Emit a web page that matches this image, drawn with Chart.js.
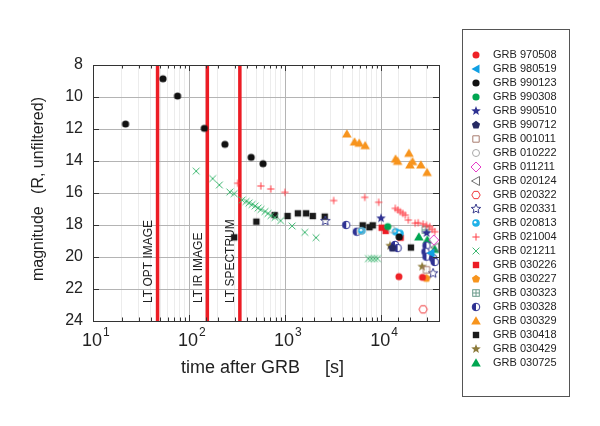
<!DOCTYPE html>
<html>
<head>
<meta charset="utf-8">
<script src="https://cdn.jsdelivr.net/npm/chart.js@4.4.0/dist/chart.umd.min.js"></script>
<style>
  html, body { margin: 0; padding: 0; background: #fff; }
</style>
</head>
<body>
<canvas id="grb-chart" width="600" height="426"></canvas>
<script>
(function () {
	"use strict";

	// time after burst [s] / R magnitude
	var t970508 = [15300, 26900];
	var m970508 = [21.23, 21.27];
	var t980519 = [33000];
	var m980519 = [19.75];
	var t990123 = [21.8, 53.5, 75.9, 144, 236, 443, 589, 15400];
	var m990123 = [11.69, 8.86, 9.94, 11.96, 12.96, 13.77, 14.17, 18.75];
	var t990308 = [11700];
	var m990308 = [18.1];
	var t990510 = [9970, 29700];
	var m990510 = [17.58, 18.5];
	var t990712 = [13060];
	var m990712 = [19.44];
	var t001011 = [29600];
	var m001011 = [20.8];
	var t010222 = [6100, 12860];
	var m010222 = [18.37, 18.27];
	var t011211 = [35300];
	var m011211 = [18.94];
	var t020124 = [36500];
	var m020124 = [19.4];
	var t020322 = [27350];
	var m020322 = [23.27];
	var t020331 = [2623, 34700];
	var m020331 = [17.75, 21.02];
	var t020813 = [6280, 14130, 15700];
	var m020813 = [18.36, 18.42, 18.52];
	var t021004 = [321, 559, 709, 995, 3200, 6745, 9420, 14030, 14900, 15800, 16790, 17830,
		19150, 22600, 24300, 27350, 29600, 32060, 33880, 36100];
	var m021004 = [15.39, 15.56, 15.75, 15.96, 16.47, 16.27, 16.58, 16.96, 17.06, 17.17, 17.27, 17.38,
		17.69, 17.89, 17.86, 17.94, 18.02, 18.1, 18.27, 18.42];
	var t021211 = [118.6, 176, 206.7, 266, 295, 357, 393, 422, 453, 487, 523, 561, 618, 663, 713,
		784, 898, 1183, 1603, 2099, 7360, 7920, 8510, 9150];
	var m021211 = [14.63, 15.1, 15.5, 15.94, 16.04, 16.44, 16.53, 16.62, 16.72, 16.81, 16.94, 17.03,
		17.16, 17.28, 17.41, 17.53, 17.73, 18.06, 18.46, 18.79, 20.1, 20.1, 20.1, 20.1];
	var t030226 = [10120, 11130, 15920];
	var m030226 = [18.17, 18.37, 18.79];
	var t030227 = [29600];
	var m030227 = [21.33];
	var t030323 = [28900];
	var m030323 = [18.31];
	var t030328 = [4325, 5570, 13930, 14830, 29600, 28900, 29600, 34700, 36100];
	var m030328 = [18.0, 18.42, 19.25, 19.44, 19.29, 19.67, 19.98, 20.08, 20.31];
	var t030329 = [4395, 5280, 5906, 6810, 14120, 14820, 19450, 19900, 21200, 25870, 30080];
	var m030329 = [12.31, 12.81, 12.89, 13.04, 13.88, 14.02, 13.52, 14.25, 14.04, 14.25, 14.72];
	var t030418 = [295, 502, 778, 1061, 1357, 1653, 1941, 2583, 6430, 7550, 8170, 20400];
	var m030418 = [18.77, 17.79, 17.38, 17.44, 17.27, 17.27, 17.44, 17.48, 18.02, 18.14, 18.02, 19.41];
	var t030429 = [12390, 26700];
	var m030429 = [19.29, 20.6];
	var t030725 = [24660, 30270, 36100];
	var m030725 = [18.75, 18.94, 19.52];

	// Liverpool Telescope response times [s]
	var ltTimes = [47, 155, 338];
	var ltLabels = ["LT OPT IMAGE", "LT IR IMAGE", "LT SPECTRUM"];

	var xDecades = [10, 100, 1000, 10000];

	var FONT = '"Liberation Sans", Arial, Helvetica, sans-serif';

	// ---- marker images ----
	function mk(draw) {
		var c = document.createElement("canvas");
		c.width = 14;
		c.height = 14;
		var g = c.getContext("2d");
		g.translate(7, 7);
		draw(g);
		return c;
	}
	function path(g, pts) {
		g.beginPath();
		pts.forEach(function (p, i) {
			if (i) g.lineTo(p[0], p[1]);
			else g.moveTo(p[0], p[1]);
		});
		g.closePath();
	}
	function ngon(n, r, rot) {
		var pts = [];
		for (var i = 0; i < n; i++) {
			var a = rot + (i * 2 * Math.PI) / n;
			pts.push([r * Math.cos(a), r * Math.sin(a)]);
		}
		return pts;
	}
	function starPts(r, r2) {
		var pts = [];
		for (var i = 0; i < 10; i++) {
			var a = -Math.PI / 2 + (i * Math.PI) / 5;
			var rr = i % 2 ? r2 : r;
			pts.push([rr * Math.cos(a), rr * Math.sin(a)]);
		}
		return pts;
	}
	function dot(color, r) {
		return mk(function (g) {
			g.beginPath();
			g.arc(0, 0, r, 0, 2 * Math.PI);
			g.fillStyle = color;
			g.fill();
		});
	}
	function ring(color, r) {
		return mk(function (g) {
			g.beginPath();
			g.arc(0, 0, r, 0, 2 * Math.PI);
			g.strokeStyle = color;
			g.lineWidth = 1;
			g.stroke();
		});
	}
	function glossDot(color, r) {
		return mk(function (g) {
			g.beginPath();
			g.arc(0, 0, r, 0, 2 * Math.PI);
			g.fillStyle = color;
			g.fill();
			g.beginPath();
			g.arc(-0.8, -0.8, 1.3, 0, 2 * Math.PI);
			g.fillStyle = "#ffffff";
			g.fill();
		});
	}
	function halfDot(color, r) {
		return mk(function (g) {
			g.beginPath();
			g.arc(0, 0, r, 0, 2 * Math.PI);
			g.fillStyle = "#ffffff";
			g.fill();
			g.beginPath();
			g.arc(0, 0, r, Math.PI / 2, 1.5 * Math.PI);
			g.closePath();
			g.fillStyle = color;
			g.fill();
			g.beginPath();
			g.arc(0, 0, r, 0, 2 * Math.PI);
			g.strokeStyle = color;
			g.lineWidth = 1;
			g.stroke();
		});
	}
	function solid(color, pts) {
		return mk(function (g) {
			path(g, pts);
			g.fillStyle = color;
			g.fill();
		});
	}
	function hollow(color, pts) {
		return mk(function (g) {
			path(g, pts);
			g.strokeStyle = color;
			g.lineWidth = 1;
			g.stroke();
		});
	}
	function plus(color, r) {
		return mk(function (g) {
			g.beginPath();
			g.moveTo(-r, 0); g.lineTo(r, 0);
			g.moveTo(0, -r); g.lineTo(0, r);
			g.strokeStyle = color;
			g.lineWidth = 1;
			g.stroke();
		});
	}
	function cross(color, r) {
		return mk(function (g) {
			g.beginPath();
			g.moveTo(-r, -r); g.lineTo(r, r);
			g.moveTo(-r, r); g.lineTo(r, -r);
			g.strokeStyle = color;
			g.lineWidth = 1;
			g.stroke();
		});
	}
	function crossBox(color, h) {
		return mk(function (g) {
			g.strokeStyle = color;
			g.lineWidth = 1;
			g.strokeRect(-h, -h, 2 * h, 2 * h);
			g.beginPath();
			g.moveTo(-h, 0); g.lineTo(h, 0);
			g.moveTo(0, -h); g.lineTo(0, h);
			g.stroke();
		});
	}
	var leftTri = [[-4.5, 0], [3.5, -4.5], [3.5, 4.5]];
	var upTri = [[0, -4.8], [4.8, 3.6], [-4.8, 3.6]];
	var sq = [[-3.2, -3.2], [3.2, -3.2], [3.2, 3.2], [-3.2, 3.2]];

	var series = [
		{ label: "GRB 970508", t: t970508, m: m970508, style: dot("#ee2227", 3.5) },
		{ label: "GRB 980519", t: t980519, m: m980519, style: solid("#109fe3", leftTri) },
		{ label: "GRB 990123", t: t990123, m: m990123, style: dot("#111111", 3.6) },
		{ label: "GRB 990308", t: t990308, m: m990308, style: dot("#00a651", 3.6) },
		{ label: "GRB 990510", t: t990510, m: m990510, style: solid("#2e3192", starPts(5, 2.1)) },
		{ label: "GRB 990712", t: t990712, m: m990712, style: solid("#262a63", ngon(5, 4.3, -Math.PI / 2)) },
		{ label: "GRB 001011", t: t001011, m: m001011, style: hollow("#a97c6f", sq) },
		{ label: "GRB 010222", t: t010222, m: m010222, style: ring("#a8a8a8", 3.5) },
		{ label: "GRB 011211", t: t011211, m: m011211, style: hollow("#e63cc8", ngon(4, 5, 0)) },
		{ label: "GRB 020124", t: t020124, m: m020124, style: hollow("#707070", leftTri) },
		{ label: "GRB 020322", t: t020322, m: m020322, style: hollow("#f0393c", ngon(6, 4.2, 0)) },
		{ label: "GRB 020331", t: t020331, m: m020331, style: hollow("#3c3f8f", starPts(5, 2.2)) },
		{ label: "GRB 020813", t: t020813, m: m020813, style: glossDot("#1fb1e8", 3.8) },
		{ label: "GRB 021004", t: t021004, m: m021004, style: plus("#ff3c44", 3.6) },
		{ label: "GRB 021211", t: t021211, m: m021211, style: cross("#3fb872", 3.4) },
		{ label: "GRB 030226", t: t030226, m: m030226, style: solid("#ec1c24", sq) },
		{ label: "GRB 030227", t: t030227, m: m030227, style: solid("#f7941d", ngon(5, 4.3, -Math.PI / 2)) },
		{ label: "GRB 030323", t: t030323, m: m030323, style: crossBox("#6a9a8a", 3.3) },
		{ label: "GRB 030328", t: t030328, m: m030328, style: halfDot("#2e3192", 3.8) },
		{ label: "GRB 030329", t: t030329, m: m030329, style: solid("#f7941d", upTri) },
		{ label: "GRB 030418", t: t030418, m: m030418, style: solid("#1a1a1a", sq) },
		{ label: "GRB 030429", t: t030429, m: m030429, style: solid("#8c7a3a", starPts(5, 2.1)) },
		{ label: "GRB 030725", t: t030725, m: m030725, style: solid("#00a651", upTri) },
	];

	var datasets = [];
	ltTimes.forEach(function (lt) {
		datasets.push({
			type: "line",
			label: "LT",
			data: [{ x: lt, y: 8 }, { x: lt, y: 24 }],
			borderColor: "#ec1c24",
			borderWidth: 3.5,
			pointRadius: 0,
			fill: false,
			order: 2,
		});
	});
	series.forEach(function (s) {
		datasets.push({
			label: s.label,
			data: s.t.map(function (t, i) { return { x: t, y: s.m[i] }; }),
			pointStyle: s.style,
			order: 1,
		});
	});

	// frame, inward ticks, axis titles, LT labels and the boxed legend
	var decor = {
		id: "decor",
		afterDraw: function (chart) {
			var ctx = chart.ctx;
			var a = chart.chartArea;
			var xs = chart.scales.x;
			var ys = chart.scales.y;
			ctx.save();

			// LT labels
			ctx.fillStyle = "#222";
			ctx.font = "12px " + FONT;
			ctx.textAlign = "left";
			ctx.textBaseline = "middle";
			ltTimes.forEach(function (lt, i) {
				var px = xs.getPixelForValue(lt) - 9;
				ctx.save();
				ctx.translate(px, 303);
				ctx.rotate(-Math.PI / 2);
				ctx.fillText(ltLabels[i], 0, 0);
				ctx.restore();
			});

			// inward ticks
			ctx.strokeStyle = "#333";
			ctx.lineWidth = 1;
			ctx.beginPath();
			xs.ticks.forEach(function (tk) {
				var px = Math.round(xs.getPixelForValue(tk.value)) + 0.5;
				var len = tk.major ? 6 : 3.5;
				ctx.moveTo(px, a.bottom); ctx.lineTo(px, a.bottom - len);
				ctx.moveTo(px, a.top); ctx.lineTo(px, a.top + len);
			});
			ys.ticks.forEach(function (tk) {
				var py = Math.round(ys.getPixelForValue(tk.value)) + 0.5;
				var len = tk.value % 2 === 0 ? 6 : 3.5;
				ctx.moveTo(a.left, py); ctx.lineTo(a.left + len, py);
				ctx.moveTo(a.right, py); ctx.lineTo(a.right - len, py);
			});
			ctx.stroke();
			ctx.strokeRect(Math.round(a.left) + 0.5, Math.round(a.top) + 0.5,
				Math.round(a.right - a.left), Math.round(a.bottom - a.top));

			// x tick labels 10^n
			ctx.fillStyle = "#222";
			ctx.textBaseline = "alphabetic";
			xDecades.forEach(function (v) {
				var px = xs.getPixelForValue(v);
				ctx.font = "18px " + FONT;
				ctx.textAlign = "right";
				ctx.fillText("10", px + 9, 346);
				ctx.font = "12px " + FONT;
				ctx.textAlign = "left";
				ctx.fillText(String(Math.round(Math.log10(v))), px + 10, 336);
			});

			// axis titles
			ctx.font = "18px " + FONT;
			ctx.textAlign = "right";
			ctx.fillText("time after GRB", 300, 373);
			ctx.textAlign = "left";
			ctx.fillText("[s]", 325, 373);
			ctx.save();
			ctx.font = "16px " + FONT;
			ctx.translate(43, 0);
			ctx.rotate(-Math.PI / 2);
			ctx.textAlign = "left";
			ctx.fillText("magnitude", -281, 0);
			ctx.textAlign = "right";
			ctx.fillText("(R, unfiltered)", -97, 0);
			ctx.restore();

			// legend
			ctx.strokeStyle = "#555";
			ctx.strokeRect(462.5, 29.5, 107, 367);
			ctx.font = "11px " + FONT;
			ctx.textBaseline = "middle";
			ctx.textAlign = "left";
			series.forEach(function (s, i) {
				var y = 55 + i * 14;
				ctx.drawImage(s.style, 476 - 7, y - 7);
				ctx.fillStyle = "#222";
				ctx.fillText(s.label, 493, y);
			});

			ctx.restore();
		},
	};

	var ctx = document.getElementById("grb-chart").getContext("2d");
	new Chart(ctx, {
		type: "scatter",
		data: { datasets: datasets },
		options: {
			responsive: false,
			animation: false,
			events: [],
			layout: { padding: { left: 0, top: 65, right: 161, bottom: 0 } },
			plugins: {
				legend: { display: false },
				tooltip: { enabled: false },
			},
			scales: {
				x: {
					type: "logarithmic",
					min: 10,
					max: 40000,
					afterFit: function (s) { s.height = 105; },
					border: { display: false },
					grid: {
						drawTicks: false,
						color: function (c) {
							return c.tick && c.tick.major ? "#b4b4b4" : "#ececec";
						},
					},
					ticks: { display: false, autoSkip: false },
				},
				y: {
					reverse: true,
					min: 8,
					max: 24,
					afterFit: function (s) { s.width = 93; },
					border: { display: false },
					grid: {
						drawTicks: false,
						color: function (c) {
							return c.tick && c.tick.value % 2 === 0 ? "#b4b4b4" : "#ececec";
						},
					},
					ticks: {
						stepSize: 1,
						padding: 10,
						color: "#222",
						font: { family: FONT, size: 16 },
						callback: function (v) { return v % 2 === 0 ? v : ""; },
					},
				},
			},
		},
		plugins: [decor],
	});
})();
</script>
</body>
</html>
